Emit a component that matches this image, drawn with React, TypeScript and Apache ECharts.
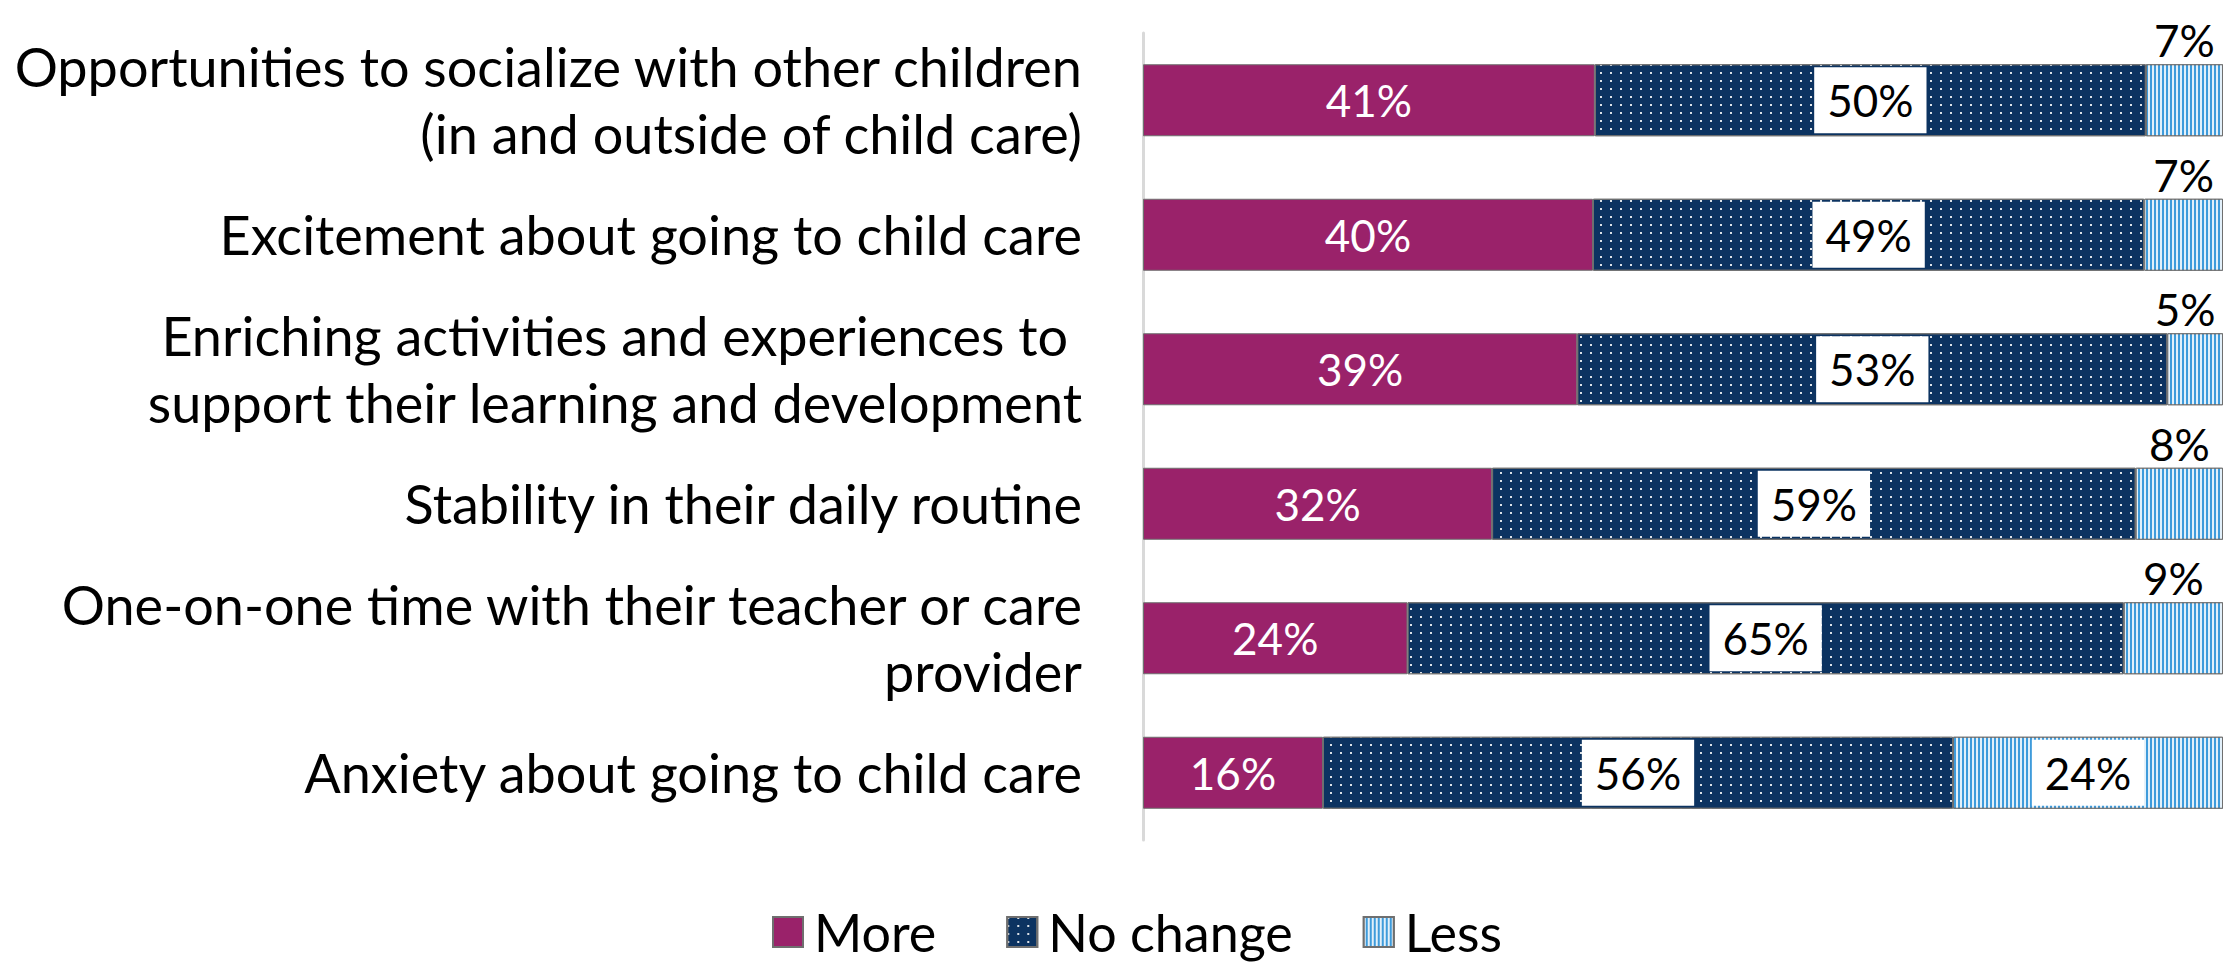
import React, { useEffect, useRef } from "react";
import * as echarts from "echarts";

const categories: string[] = [
  "Opportunities to socialize with other children\n(in and outside of child care)",
  "Excitement about going to child care",
  "Enriching activities and experiences to \nsupport their learning and development",
  "Stability in their daily routine",
  "One-on-one time with their teacher or care\nprovider",
  "Anxiety about going to child care",
];
const moreValues: number[] = [41, 40, 39, 32, 24, 16];
const noChangeValues: number[] = [50, 49, 53, 59, 65, 56];
const lessValues: number[] = [7, 7, 5, 8, 9, 24];
const seriesNames: string[] = ["More", "No change", "Less"];

const MORE_COLOR = "#9A226A";
const NAVY = "#0C3361";
const LIGHT_BLUE = "#3E9BDB";
const FONT = "Lato";

export default function App() {
  const ref = useRef<HTMLDivElement>(null);
  useEffect(() => {
    if (!ref.current) return;
    const chart = echarts.init(ref.current, null, { renderer: "svg" });
    const totals = moreValues.map((v, i) => v + noChangeValues[i] + lessValues[i]);
    const norm = (arr: number[]) => arr.map((v, i) => (v / totals[i]) * 100);
    const border = { borderColor: "#6F6F6F", borderWidth: 1 };
    const boxLabel = {
      show: true,
      position: "inside",
      color: "#000",
      fontFamily: FONT,
      fontSize: 44,
      lineHeight: 52,
      backgroundColor: "#fff",
      padding: [7, 13, 7, 13],
    };
    const option: any = {
      animation: false,
      textStyle: { fontFamily: FONT },
      grid: { left: 1143, right: 0, top: 33, height: 807, containLabel: false },
      xAxis: { type: "value", min: 0, max: 100, show: false },
      yAxis: {
        type: "category",
        data: categories,
        inverse: true,
        axisLine: { show: true, lineStyle: { color: "#D9D9D9", width: 3 } },
        axisTick: { show: false },
        axisLabel: {
          color: "#000",
          fontFamily: FONT,
          fontSize: 54,
          lineHeight: 67,
          margin: 61,
          align: "right",
        },
      },
      legend: {
        data: seriesNames,
        bottom: 3,
        left: 767,
        icon: "rect",
        itemWidth: 30,
        itemHeight: 30,
        itemGap: 70,
        textStyle: { fontFamily: FONT, fontSize: 52, color: "#000", padding: [0, 0, 0, 6] },
      },
      series: [
        {
          name: seriesNames[0],
          type: "bar",
          stack: "total",
          barWidth: 72,
          data: norm(moreValues),
          itemStyle: { color: MORE_COLOR, ...border },
          label: {
            show: true,
            position: "inside",
            color: "#fff",
            fontFamily: FONT,
            fontSize: 44,
            formatter: (p: any) => moreValues[p.dataIndex] + "%",
          },
        },
        {
          name: seriesNames[1],
          type: "bar",
          stack: "total",
          data: norm(noChangeValues),
          itemStyle: {
            color: NAVY,
            ...border,
            decal: {
              symbol: "rect",
              symbolSize: 1,
              color: "rgba(255,255,255,0.85)",
              dashArrayX: [2, 8],
              dashArrayY: [2, 6],
              symbolKeepAspect: false,
            },
          },
          label: {
            ...boxLabel,
            formatter: (p: any) => noChangeValues[p.dataIndex] + "%",
          },
        },
        {
          name: seriesNames[2],
          type: "bar",
          stack: "total",
          data: norm(lessValues).map((v, i) => ({
            value: v,
            label:
              lessValues[i] >= 15
                ? { ...boxLabel }
                : {
                    show: true,
                    position: "top",
                    distance: 2,
                    offset: v < 6 ? [-10, 0] : [0, 0],
                    color: "#000",
                    fontFamily: FONT,
                    fontSize: 44,
                    backgroundColor: "transparent",
                    padding: 0,
                  },
          })),
          itemStyle: {
            color: LIGHT_BLUE,
            ...border,
            decal: {
              symbol: "rect",
              symbolSize: 1,
              color: "rgba(255,255,255,0.85)",
              dashArrayX: [1.4, 2],
              dashArrayY: [10, 0],
              symbolKeepAspect: false,
            },
          },
          label: {
            show: true,
            formatter: (p: any) => lessValues[p.dataIndex] + "%",
          },
        },
      ],
    };
    chart.setOption(option);
    return () => chart.dispose();
  }, []);
  return (
    <div
      ref={ref}
      style={{ position: "fixed", left: 0, top: 0, width: 2223, height: 966, background: "#fff" }}
    />
  );
}
